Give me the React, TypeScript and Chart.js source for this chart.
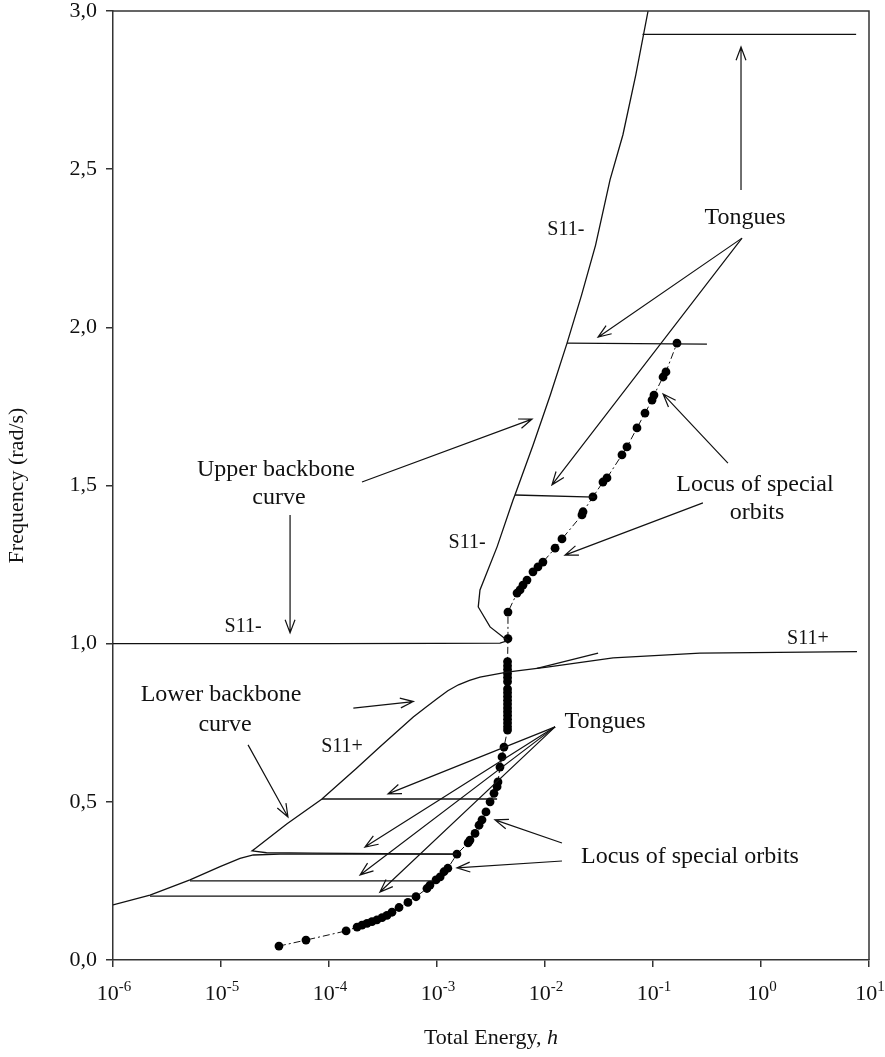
import React, { useEffect, useRef } from 'react';
import { Chart, registerables } from 'chart.js';

Chart.register(...registerables);

const FONT = '"Liberation Serif", "Times New Roman", Times, serif';

// ---- axis ticks ----
const xTickValues = [1e-6, 1e-5, 1e-4, 1e-3, 1e-2, 1e-1, 1, 10];
const xTickBase = '10';
const xTickExponents = ['-6', '-5', '-4', '-3', '-2', '-1', '0', '1'];
const yTickValues = [0, 0.5, 1, 1.5, 2, 2.5, 3];
const yTickLabels = ['0,0', '0,5', '1,0', '1,5', '2,0', '2,5', '3,0'];

// ---- upper backbone curve (S11-) ----
const upperH = [1e-6, 1e-4, 1e-3, 3.83e-3, 4.54e-3, 4.08e-3, 3.10e-3, 2.41e-3, 2.50e-3, 3.6e-3, 5.06e-3, 5.27e-3, 7.76e-3, 0.0112, 0.0160, 0.0218, 0.0294, 0.0400, 0.0526, 0.0693, 0.0900];
const upperF = [1.0, 1.0, 1.001, 1.002, 1.010, 1.021, 1.053, 1.116, 1.170, 1.306, 1.454, 1.470, 1.628, 1.786, 1.950, 2.102, 2.260, 2.466, 2.608, 2.798, 3.0];

// ---- lower backbone curve (S11+), main branch ----
const lowerH = [7.74, 0.272, 0.0427, 0.01045, 4.45e-3, 2.50e-3, 2.0e-3, 1.58e-3, 1.26e-3, 1.0e-3, 7.94e-4, 6.03e-4, 2.95e-4, 1.80e-4, 8.55e-5, 4.06e-5, 2.09e-5, 1.94e-5, 2.64e-5, 7.1e-5, 1.53e-3];
const lowerF = [0.975, 0.970, 0.955, 0.926, 0.910, 0.894, 0.884, 0.870, 0.851, 0.826, 0.800, 0.768, 0.673, 0.606, 0.508, 0.430, 0.353, 0.345, 0.339, 0.338, 0.335];

// ---- lower backbone, low-energy branch ----
const lowBranchH = [1e-6, 2.2e-6, 5.16e-6, 9.8e-6, 1.5e-5, 1.99e-5, 3.52e-5, 1.53e-3];
const lowBranchF = [0.174, 0.205, 0.253, 0.295, 0.321, 0.332, 0.335, 0.335];

// ---- tongues (start / end) ----
const tongueStartH = [0.080, 0.016, 5.27e-3, 8.43e-3, 8.6e-5, 5.16e-6, 2.2e-6];
const tongueEndH = [7.6, 0.316, 0.029, 0.031, 3.6e-3, 9.18e-4, 6.0e-4];
const tongueStartF = [2.926, 1.950, 1.470, 0.922, 0.509, 0.250, 0.202];
const tongueEndF = [2.926, 1.947, 1.463, 0.970, 0.509, 0.250, 0.202];

// ---- locus of special orbits ----
const locusH = [
  3.44e-5, 6.12e-5, 1.44e-4, 1.82e-4, 2.02e-4, 2.25e-4, 2.50e-4, 2.78e-4, 3.10e-4, 3.44e-4,
  3.83e-4, 4.45e-4, 5.38e-4, 6.39e-4, 8.07e-4, 8.61e-4, 9.79e-4, 1.07e-3, 1.16e-3, 1.26e-3,
  1.53e-3, 1.94e-3, 2.02e-3, 2.25e-3, 2.45e-3, 2.61e-3, 2.84e-3, 3.10e-3, 3.37e-3, 3.60e-3,
  3.67e-3, 3.83e-3, 4.00e-3, 4.17e-3,
  4.5e-3, 4.5e-3, 4.5e-3, 4.5e-3, 4.5e-3, 4.5e-3, 4.5e-3, 4.5e-3, 4.5e-3, 4.5e-3, 4.5e-3, 4.5e-3,
  4.5e-3, 4.5e-3, 4.5e-3, 4.5e-3, 4.5e-3, 4.5e-3,
  4.54e-3, 4.54e-3,
  5.51e-3, 5.87e-3, 6.25e-3, 6.81e-3, 7.74e-3, 8.61e-3, 9.57e-3, 0.01239, 0.01436, 0.0220,
  0.0225, 0.0278, 0.0344, 0.0375, 0.0516, 0.0574, 0.0711, 0.0843, 0.0980, 0.1021,
  0.1239, 0.1318, 0.1667,
];
const locusF = [
  0.044, 0.063, 0.092, 0.104, 0.110, 0.116, 0.121, 0.127, 0.134, 0.141,
  0.151, 0.166, 0.182, 0.200, 0.226, 0.237, 0.253, 0.263, 0.279, 0.290,
  0.335, 0.370, 0.379, 0.400, 0.426, 0.443, 0.468, 0.500, 0.527, 0.548,
  0.563, 0.610, 0.642, 0.673,
  0.727, 0.737, 0.749, 0.761, 0.773, 0.785, 0.797, 0.809, 0.821, 0.833, 0.845, 0.857,
  0.880, 0.893, 0.905, 0.918, 0.930, 0.943,
  1.016, 1.100,
  1.160, 1.170, 1.185, 1.201, 1.227, 1.243, 1.258, 1.302, 1.331, 1.407,
  1.417, 1.464, 1.511, 1.524, 1.597, 1.622, 1.682, 1.729, 1.770, 1.786,
  1.843, 1.859, 1.950,
];

// ---- annotation layer (data coordinates) ----
const annotationLabels = [
  { text: 'Tongues', h: 0.711, f: 2.346, size: 24 },
  { text: 'Upper backbone', h: 3.23e-5, f: 1.549, size: 24 },
  { text: 'curve', h: 3.44e-5, f: 1.460, size: 24 },
  { text: 'S11-', h: 1.60e-5, f: 1.053, size: 20 },
  { text: 'S11-', h: 1.90e-3, f: 1.318, size: 20 },
  { text: 'S11-', h: 0.0156, f: 2.308, size: 20 },
  { text: 'Locus of special', h: 0.879, f: 1.502, size: 24 },
  { text: 'orbits', h: 0.918, f: 1.413, size: 24 },
  { text: 'S11+', h: 2.72, f: 1.015, size: 20 },
  { text: 'Lower backbone', h: 1.0e-5, f: 0.838, size: 24 },
  { text: 'curve', h: 1.09e-5, f: 0.743, size: 24 },
  { text: 'S11+', h: 1.32e-4, f: 0.673, size: 20 },
  { text: 'Tongues', h: 0.036, f: 0.752, size: 24 },
  { text: 'Locus of special orbits', h: 0.22, f: 0.326, size: 24 },
];

const annotationArrows = [
  { from: [0.653, 2.434], to: [0.653, 2.886] },
  { from: [0.667, 2.282], to: [0.031, 1.969] },
  { from: [0.667, 2.282], to: [0.0116, 1.502] },
  { from: [2.02e-4, 1.511], to: [7.59e-3, 1.710] },
  { from: [4.36e-5, 1.407], to: [4.36e-5, 1.034] },
  { from: [0.494, 1.571], to: [0.124, 1.789] },
  { from: [0.290, 1.445], to: [0.0153, 1.280] },
  { from: [1.68e-4, 0.796], to: [6.04e-4, 0.817] },
  { from: [1.78e-5, 0.680], to: [4.17e-5, 0.452] },
  { from: [0.0124, 0.737], to: [3.52e-4, 0.525] },
  { from: [0.0124, 0.737], to: [2.15e-4, 0.357] },
  { from: [0.0124, 0.737], to: [1.94e-4, 0.269] },
  { from: [0.0124, 0.737], to: [2.96e-4, 0.215] },
  { from: [0.01436, 0.370], to: [3.44e-3, 0.443] },
  { from: [0.01436, 0.313], to: [1.53e-3, 0.291] },
];

const toPoints = (hs: number[], fs: number[]) => hs.map((h, i) => ({ x: h, y: fs[i] }));

const lineStyle = {
  showLine: true,
  borderColor: '#111',
  borderWidth: 1.3,
  pointRadius: 0,
  fill: false,
  tension: 0,
};

const annotationPlugin = {
  id: 'annotationLayer',
  afterDraw(chart: any) {
    const { ctx, chartArea, scales } = chart;
    const xs = scales.x;
    const ys = scales.y;
    ctx.save();
    // frame top & right
    ctx.strokeStyle = '#333';
    ctx.lineWidth = 1.5;
    ctx.beginPath();
    ctx.moveTo(chartArea.left, chartArea.top);
    ctx.lineTo(chartArea.right, chartArea.top);
    ctx.lineTo(chartArea.right, chartArea.bottom);
    ctx.stroke();

    // arrows
    ctx.strokeStyle = '#111';
    ctx.lineWidth = 1.2;
    annotationArrows.forEach((a) => {
      const x1 = xs.getPixelForValue(a.from[0]);
      const y1 = ys.getPixelForValue(a.from[1]);
      const x2 = xs.getPixelForValue(a.to[0]);
      const y2 = ys.getPixelForValue(a.to[1]);
      const ang = Math.atan2(y2 - y1, x2 - x1);
      const len = 14;
      const spread = 0.36;
      ctx.beginPath();
      ctx.moveTo(x1, y1);
      ctx.lineTo(x2, y2);
      ctx.moveTo(x2 - len * Math.cos(ang - spread), y2 - len * Math.sin(ang - spread));
      ctx.lineTo(x2, y2);
      ctx.lineTo(x2 - len * Math.cos(ang + spread), y2 - len * Math.sin(ang + spread));
      ctx.stroke();
    });

    // labels
    ctx.fillStyle = '#111';
    ctx.textAlign = 'center';
    ctx.textBaseline = 'middle';
    annotationLabels.forEach((l) => {
      ctx.font = `${l.size}px ${FONT}`;
      ctx.fillText(l.text, xs.getPixelForValue(l.h), ys.getPixelForValue(l.f));
    });

    // x tick labels: 10 with raised exponent
    ctx.textAlign = 'left';
    ctx.textBaseline = 'alphabetic';
    const baseY = chartArea.bottom + 40;
    xTickValues.forEach((v, i) => {
      const px = xs.getPixelForValue(v);
      ctx.font = `22px ${FONT}`;
      const wb = ctx.measureText(xTickBase).width;
      ctx.font = `15px ${FONT}`;
      const we = ctx.measureText(xTickExponents[i]).width;
      const start = px - (wb + we) / 2 + 1;
      ctx.font = `22px ${FONT}`;
      ctx.fillText(xTickBase, start, baseY);
      ctx.font = `15px ${FONT}`;
      ctx.fillText(xTickExponents[i], start + wb, baseY - 9);
    });

    // x axis title with italic h
    const t1 = 'Total Energy, ';
    const t2 = 'h';
    ctx.font = `22px ${FONT}`;
    const w1 = ctx.measureText(t1).width;
    ctx.font = `italic 22px ${FONT}`;
    const w2 = ctx.measureText(t2).width;
    const cx = (chartArea.left + chartArea.right) / 2;
    const ty = chart.height - 13;
    ctx.font = `22px ${FONT}`;
    ctx.fillText(t1, cx - (w1 + w2) / 2, ty);
    ctx.font = `italic 22px ${FONT}`;
    ctx.fillText(t2, cx - (w1 + w2) / 2 + w1, ty);
    ctx.restore();
  },
};

export default function App() {
  const canvasRef = useRef<HTMLCanvasElement | null>(null);

  useEffect(() => {
    const canvas = canvasRef.current;
    if (!canvas) return;

    const datasets: any[] = [
      { ...lineStyle, data: toPoints(upperH, upperF) },
      { ...lineStyle, data: toPoints(lowerH, lowerF) },
      { ...lineStyle, data: toPoints(lowBranchH, lowBranchF) },
      ...tongueStartH.map((h, i) => ({
        ...lineStyle,
        data: [
          { x: h, y: tongueStartF[i] },
          { x: tongueEndH[i], y: tongueEndF[i] },
        ],
      })),
      {
        showLine: true,
        data: toPoints(locusH, locusF),
        borderColor: '#111',
        borderWidth: 1,
        borderDash: [7, 3, 2, 3],
        pointRadius: 4.4,
        pointBackgroundColor: '#000',
        pointBorderColor: '#000',
        pointBorderWidth: 0,
        fill: false,
      },
    ];

    const chart = new Chart(canvas, {
      type: 'scatter',
      data: { datasets },
      options: {
        responsive: false,
        animation: false,
        events: [],
        layout: { padding: { top: 11, right: 16, left: 0, bottom: 0 } },
        plugins: { legend: { display: false }, tooltip: { enabled: false } },
        scales: {
          x: {
            type: 'logarithmic',
            min: 1e-6,
            max: 10,
            afterBuildTicks: (s: any) => {
              s.ticks = xTickValues.map((v) => ({ value: v }));
            },
            afterFit: (s: any) => {
              s.height = 97;
              s.paddingLeft = 0;
              s.paddingRight = 0;
            },
            ticks: { display: false, autoSkip: false },
            grid: { drawOnChartArea: false, drawTicks: true, tickLength: 7, color: '#333', lineWidth: 1.5 },
            border: { color: '#333', width: 1.5 },
          },
          y: {
            type: 'linear',
            min: 0,
            max: 3,
            afterBuildTicks: (s: any) => {
              s.ticks = yTickValues.map((v) => ({ value: v }));
            },
            afterFit: (s: any) => {
              s.width = 113;
              s.paddingTop = 0;
              s.paddingBottom = 0;
            },
            ticks: {
              callback: (_v: any, i: number) => yTickLabels[i],
              font: { family: FONT, size: 22 },
              color: '#111',
              padding: 9,
            },
            grid: { drawOnChartArea: false, drawTicks: true, tickLength: 7, color: '#333', lineWidth: 1.5 },
            border: { color: '#333', width: 1.5 },
            title: {
              display: true,
              text: 'Frequency (rad/s)',
              font: { family: FONT, size: 22 },
              color: '#111',
              padding: { top: 4, bottom: 0 },
            },
          },
        },
      },
      plugins: [annotationPlugin],
    });

    return () => chart.destroy();
  }, []);

  return (
    <div style={{ position: 'absolute', left: 0, top: 0, width: 885, height: 1057, background: '#fff' }}>
      <canvas ref={canvasRef} width={885} height={1057} />
    </div>
  );
}
